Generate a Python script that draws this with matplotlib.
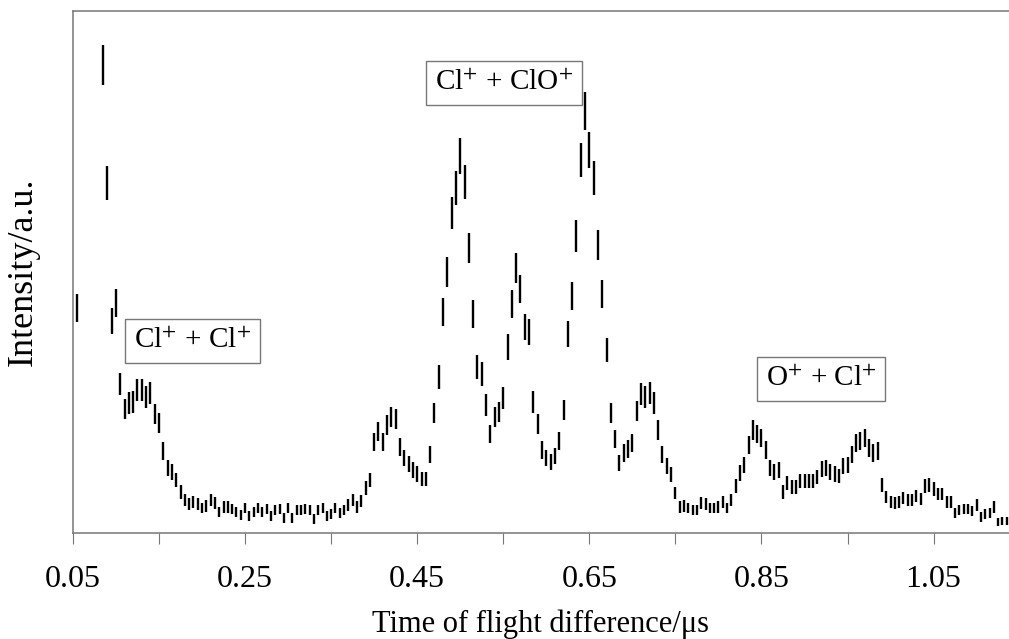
import matplotlib.pyplot as plt
import numpy as np

plt.rcParams['font.family'] = ['Liberation Serif', 'DejaVu Serif']
plt.rcParams['mathtext.fontset'] = 'stix'

# time bins (us): first bin centre and bin width
T0 = 0.055
DT = 0.005

# coincidence intensity per bin (a.u.), nan = no point shown
intensity = [
    225, np.nan, np.nan, np.nan, np.nan, np.nan, 468, 350, 212, 230,
    149, 124, 130, 131, 143, 143, 136, 140, 119, 110,
    82, 65, 61, 53, 41, 33, 29, 31, 29, 25,
    27, 33, 30, 21, 26, 26, 24, 21, 18, 25,
    17, 21, 25, 21, 24, 17, 23, 24, 15, 25,
    15, 23, 23, 24, 23, 14, 23, 25, 17, 19,
    25, 20, 23, 28, 33, 26, 32, 45, 53, 91,
    101, 91, 108, 116, 114, 86, 75, 69, 63, 59,
    54, 54, 78, 120, 156, 221, 261, 320, 345, 377,
    351, 285, 219, 166, 159, 128, 99, 116, 121, 135,
    186, 229, 265, 244, 206, 201, 131, 109, 83, 75,
    71, 77, 92, 123, 199, 237, 297, 373, 422, 383,
    355, 288, 239, 183, 120, 94, 70, 80, 84, 90,
    122, 139, 136, 140, 130, 103, 78, 67, 58, 40,
    26, 27, 25, 23, 23, 30, 29, 25, 25, 26,
    31, 25, 33, 47, 60, 68, 88, 103, 99, 95,
    83, 65, 61, 63, 41, 50, 46, 46, 52, 52,
    52, 52, 56, 64, 65, 61, 59, 57, 67, 68,
    78, 90, 92, 95, 85, 80, 82, 48, 36, 31,
    30, 31, 35, 33, 33, 37, 34, 47, 48, 44,
    39, 39, 31, 31, 20, 23, 24, 24, 22, 28,
    16, 19, 20, 26, 11, 12, 12,
]

tick_values = [0.05, 0.15, 0.25, 0.35, 0.45, 0.55, 0.65, 0.75, 0.85, 0.95, 1.05]
tick_labels = ['0.05', '', '0.25', '', '0.45', '', '0.65', '', '0.85', '', '1.05']

labels = [r'Cl$^{+}$ + Cl$^{+}$', r'Cl$^{+}$ + ClO$^{+}$', r'O$^{+}$ + Cl$^{+}$']
label_x = [0.189, 0.551, 0.919]
label_y = [192, 450, 154]

y = np.array(intensity, dtype=float)
t = T0 + DT * np.arange(len(y))
# counting-statistics error bars
yerr = 0.89 * np.sqrt(y + 13)

fig = plt.figure(figsize=(10.09, 6.39), dpi=100)
ax = fig.add_axes([0.0723, 0.1659, 0.9277, 0.8169])

ax.errorbar(t, y, yerr=yerr, fmt='none', ecolor='black', elinewidth=1.7, capsize=0)

ax.set_xlim(0.05, 1.1376)
ax.set_ylim(0, 522)

ax.set_xticks(tick_values)
ax.set_xticklabels(tick_labels)
ax.set_yticks([])
ax.tick_params(axis='x', direction='out', length=8, width=0.8, color='#777777',
               labelsize=23, pad=15)

for side in ['top', 'left', 'bottom']:
    ax.spines[side].set_color('#777777')
    ax.spines[side].set_linewidth(1.1)
ax.spines['right'].set_visible(False)

ax.set_xlabel('Time of flight difference/\u03bcs', fontsize=22, labelpad=11)
ax.set_ylabel('Intensity/a.u.', fontsize=26, labelpad=24)

for txt, lx, ly in zip(labels, label_x, label_y):
    ax.text(lx, ly, txt, fontsize=21, ha='center', va='center',
            bbox=dict(boxstyle='square,pad=0.3', facecolor='white',
                      edgecolor='#777777', linewidth=1.0))

fig.savefig('out.png', dpi=100)
